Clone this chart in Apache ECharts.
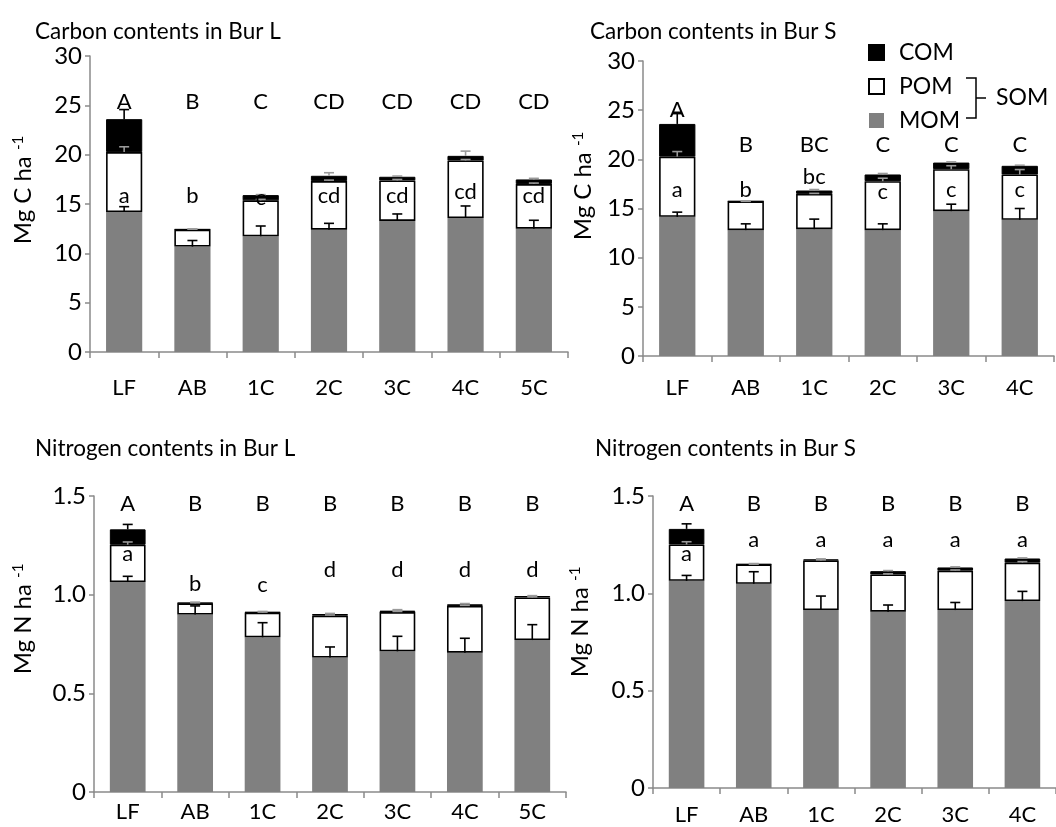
<!DOCTYPE html>
<html><head><meta charset="utf-8">
<script src="https://cdn.jsdelivr.net/npm/echarts@6/dist/echarts.min.js"></script>
<style>html,body{margin:0;padding:0;background:#fff}#c{width:1056px;height:827px}</style>
</head><body><div id="c"></div>
<script>
const FONT = 'Lato';
// ---------- categories ----------
const catsL = ['LF','AB','1C','2C','3C','4C','5C'];
const catsS = ['LF','AB','1C','2C','3C','4C'];
const titles = ['Carbon contents in Bur L','Carbon contents in Bur S','Nitrogen contents in Bur L','Nitrogen contents in Bur S'];
const seriesNames = ['MOM','POM','COM'];
// ---------- Carbon, Bur L (Mg C/ha) ----------
const cL_MOM = [14.19, 10.68, 11.73, 12.40, 13.28, 13.58, 12.50];
const cL_POM = [6.07, 1.72, 3.64, 4.92, 4.11, 5.83, 4.52];
const cL_COM = [3.34, 0.05, 0.53, 0.54, 0.37, 0.47, 0.47];
const cL_errMOM = [0.54, 0.62, 1.04, 0.64, 0.71, 1.22, 0.85];
const cL_errPOM = [0.54, 0.05, 0.10, 0.10, 0.10, 0.10, 0.10];
const cL_errCOM = [0.97, 0.02, 0.05, 0.31, 0.07, 0.48, 0.11];
const cL_upper = ['A','B','C','CD','CD','CD','CD'];
const cL_upperY = [25.3, 25.3, 25.3, 25.3, 25.3, 25.3, 25.3];
const cL_lower = ['a','b','c','cd','cd','cd','cd'];
const cL_lowerY = [15.8, 15.8, 15.6, 15.8, 15.8, 16.2, 15.8];
// ---------- Carbon, Bur S ----------
const cS_MOM = [14.15, 12.80, 12.90, 12.80, 14.73, 13.85];
const cS_POM = [6.13, 2.91, 3.59, 4.98, 4.27, 4.61];
const cS_COM = [3.32, 0.04, 0.34, 0.68, 0.67, 0.88];
const cS_errMOM = [0.48, 0.64, 1.02, 0.64, 0.71, 1.15];
const cS_errPOM = [0.51, 0.02, 0.05, 0.30, 0.35, 0.50];
const cS_errCOM = [1.05, 0.02, 0.10, 0.10, 0.07, 0.06];
const cS_upper = ['A','B','BC','C','C','C'];
const cS_upperY = [25.0, 21.5, 21.5, 21.5, 21.5, 21.5];
const cS_lower = ['a','b','bc','c','c','c'];
const cS_lowerY = [16.9, 16.9, 18.2, 16.7, 16.9, 16.9];
// ---------- Nitrogen, Bur L (Mg N/ha) ----------
const nL_MOM = [1.064, 0.899, 0.784, 0.681, 0.713, 0.706, 0.770];
const nL_POM = [0.189, 0.057, 0.125, 0.213, 0.199, 0.237, 0.216];
const nL_COM = [0.078, 0.003, 0.003, 0.008, 0.007, 0.008, 0.007];
const nL_errMOM = [0.029, 0.044, 0.074, 0.054, 0.076, 0.073, 0.078];
const nL_errPOM = [0.014, 0.003, 0.003, 0.003, 0.003, 0.003, 0.003];
const nL_errCOM = [0.025, 0.003, 0.003, 0.003, 0.005, 0.004, 0.002];
const nL_upper = ['A','B','B','B','B','B','B'];
const nL_upperY = [1.46, 1.46, 1.46, 1.46, 1.46, 1.46, 1.46];
const nL_lower = ['a','b','c','d','d','d','d'];
const nL_lowerY = [1.208, 1.056, 1.047, 1.128, 1.128, 1.128, 1.128];
// ---------- Nitrogen, Bur S ----------
const nS_MOM = [1.064, 1.049, 0.914, 0.906, 0.914, 0.960];
const nS_POM = [0.187, 0.099, 0.255, 0.191, 0.203, 0.198];
const nS_COM = [0.080, 0.002, 0.005, 0.017, 0.016, 0.021];
const nS_errMOM = [0.028, 0.062, 0.072, 0.034, 0.039, 0.050];
const nS_errPOM = [0.014, 0.002, 0.003, 0.003, 0.003, 0.005];
const nS_errCOM = [0.026, 0.003, 0.003, 0.003, 0.003, 0.003];
const nS_upper = ['A','B','B','B','B','B'];
const nS_upperY = [1.46, 1.46, 1.46, 1.46, 1.46, 1.46];
const nS_lower = ['a','a','a','a','a','a'];
const nS_lowerY = [1.201, 1.273, 1.273, 1.273, 1.273, 1.273];
// ---------- axis ticks ----------
const cTicks = {min: 0, max: 30, interval: 5};
const nTicks = {min: 0, max: 1.5, interval: 0.5};

const panels = [
  {cats: catsL, mom: cL_MOM, pom: cL_POM, com: cL_COM, eM: cL_errMOM, eP: cL_errPOM, eC: cL_errCOM,
   up: cL_upper, upY: cL_upperY, lo: cL_lower, loY: cL_lowerY, ticks: cTicks,
   grid: {left: 90, top: 56, width: 478, height: 296}, labelMargin: 25},
  {cats: catsS, mom: cS_MOM, pom: cS_POM, com: cS_COM, eM: cS_errMOM, eP: cS_errPOM, eC: cS_errCOM,
   up: cS_upper, upY: cS_upperY, lo: cS_lower, loY: cS_lowerY, ticks: cTicks,
   grid: {left: 643, top: 61, width: 411, height: 295}, labelMargin: 21},
  {cats: catsL, mom: nL_MOM, pom: nL_POM, com: nL_COM, eM: nL_errMOM, eP: nL_errPOM, eC: nL_errCOM,
   up: nL_upper, upY: nL_upperY, lo: nL_lower, loY: nL_lowerY, ticks: nTicks,
   grid: {left: 94, top: 496, width: 472, height: 296}, labelMargin: 9},
  {cats: catsS, mom: nS_MOM, pom: nS_POM, com: nS_COM, eM: nS_errMOM, eP: nS_errPOM, eC: nS_errCOM,
   up: nS_upper, upY: nS_upperY, lo: nS_lower, loY: nS_lowerY, ticks: nTicks,
   grid: {left: 653, top: 496, width: 413, height: 292}, labelMargin: 16}
];

const AXIS_GREY = '#8a8a8a';
const grids = [], xAxes = [], yAxes = [], series = [];

function errSeries(pi, name, tops, errs, colorFn) {
  return {
    type: 'custom', name: name + ' error', xAxisIndex: pi, yAxisIndex: pi, z: 5,
    silent: true, legendHoverLink: false,
    data: tops.map((t, i) => [i, t, errs[i]]),
    renderItem: function (params, api) {
      const x = api.value(0), top = api.value(1), e = api.value(2);
      const p0 = api.coord([x, top]);
      const p1 = api.coord([x, top + e]);
      const c = colorFn(params.dataIndex);
      return {type: 'group', children: [
        {type: 'line', shape: {x1: p0[0], y1: p0[1], x2: p1[0], y2: p1[1]}, style: {stroke: c, lineWidth: 1.6}},
        {type: 'line', shape: {x1: p1[0] - 5, y1: p1[1], x2: p1[0] + 5, y2: p1[1]}, style: {stroke: c, lineWidth: 1.6}}
      ]};
    }
  };
}
function letterSeries(pi, letters, ys) {
  return {
    type: 'custom', name: 'letters', xAxisIndex: pi, yAxisIndex: pi, z: 10, silent: true,
    data: ys.map((y, i) => [i, y]),
    renderItem: function (params, api) {
      const p = api.coord([api.value(0), api.value(1)]);
      return {type: 'text', x: p[0], y: p[1], style: {text: letters[params.dataIndex], font: '22px ' + FONT,
        fill: '#000', align: 'center', verticalAlign: 'middle'}};
    }
  };
}

panels.forEach((P, pi) => {
  grids.push(Object.assign({containLabel: false}, P.grid));
  xAxes.push({
    type: 'category', gridIndex: pi, data: P.cats,
    axisLine: {lineStyle: {color: AXIS_GREY, width: 1.5}},
    axisTick: {show: true, alignWithLabel: false, length: 6, lineStyle: {color: AXIS_GREY, width: 1.5}},
    axisLabel: {color: '#000', fontSize: 22, fontFamily: FONT, margin: P.labelMargin}
  });
  yAxes.push({
    type: 'value', gridIndex: pi, min: P.ticks.min, max: P.ticks.max, interval: P.ticks.interval,
    splitLine: {show: false},
    axisLine: {show: true, lineStyle: {color: AXIS_GREY, width: 1.5}},
    axisTick: {show: true, length: 5, lineStyle: {color: AXIS_GREY, width: 1.5}},
    axisLabel: {color: '#000', fontSize: 24, fontFamily: FONT, margin: 8,
      formatter: v => (P.ticks.max < 5 ? (v === 0 ? '0' : v.toFixed(1)) : String(v))}
  });
  const stack = 'st' + pi;
  series.push({type: 'bar', name: 'MOM', stack, xAxisIndex: pi, yAxisIndex: pi, barWidth: '53%', data: P.mom,
    itemStyle: {color: '#808080'}});
  series.push({type: 'bar', name: 'POM', stack, xAxisIndex: pi, yAxisIndex: pi, barWidth: '53%', data: P.pom,
    itemStyle: {color: '#ffffff', borderColor: '#000', borderWidth: 1.6}});
  series.push({type: 'bar', name: 'COM', stack, xAxisIndex: pi, yAxisIndex: pi, barWidth: '53%', data: P.com,
    itemStyle: {color: '#000000', borderColor: '#000', borderWidth: 1}});
  const topM = P.mom.slice();
  const topP = P.mom.map((m, i) => m + P.pom[i]);
  const topC = P.mom.map((m, i) => m + P.pom[i] + P.com[i]);
  series.push(errSeries(pi, 'MOM', topM, P.eM, () => '#000'));
  series.push(errSeries(pi, 'POM', topP, P.eP, () => '#9a9a9a'));
  series.push(errSeries(pi, 'COM', topC, P.eC, i => (i === 0 ? '#000' : '#9a9a9a')));
  series.push(letterSeries(pi, P.up, P.upY));
  series.push(letterSeries(pi, P.lo, P.loY));
});

const titleStyle = {color: '#000', fontSize: 22.5, fontWeight: 'normal', fontFamily: FONT};
const yName = (x, y, unit) => ({
  type: 'text', x, y, rotation: Math.PI / 2,
  style: {text: '{n|Mg ' + unit + ' ha }{s|-1}', fill: '#000', align: 'center', verticalAlign: 'middle',
    rich: {n: {fontSize: 24, fontFamily: FONT, fill: '#000'},
           s: {fontSize: 15, fontFamily: FONT, fill: '#000', verticalAlign: 'top'}}}
});

const option = {
  backgroundColor: '#fff',
  animation: false,
  title: [
    {text: titles[0], left: 35, top: 20, padding: 0, textStyle: titleStyle},
    {text: titles[1], left: 590, top: 20, padding: 0, textStyle: titleStyle},
    {text: titles[2], left: 35, top: 437, padding: 0, textStyle: titleStyle},
    {text: titles[3], left: 595, top: 437, padding: 0, textStyle: titleStyle}
  ],
  legend: {
    data: ['COM', 'POM', 'MOM'], orient: 'vertical', left: 868, top: 41, padding: 0,
    itemWidth: 15, itemHeight: 15, itemGap: 11, icon: 'rect',
    textStyle: {color: '#000', fontSize: 23, fontFamily: FONT, padding: [0, 0, 0, 10]},
    selectedMode: false
  },
  grid: grids, xAxis: xAxes, yAxis: yAxes, series,
  graphic: [
    yName(23, 190, 'C'), yName(583, 186, 'C'), yName(23, 619, 'N'), yName(580, 622, 'N'),
    {type: 'polyline', shape: {points: [[966, 78], [976, 78], [976, 118], [966, 118]]},
     style: {stroke: '#000', lineWidth: 1.5, fill: null}},
    {type: 'line', shape: {x1: 976, y1: 98, x2: 986, y2: 98}, style: {stroke: '#000', lineWidth: 1.5}},
    {type: 'text', x: 996, y: 98, style: {text: 'SOM', font: '23px ' + FONT, fill: '#000', align: 'left', verticalAlign: 'middle'}}
  ]
};
const chart = echarts.init(document.getElementById('c'), null, {renderer: 'canvas'});
chart.setOption(option);
</script></body></html>
